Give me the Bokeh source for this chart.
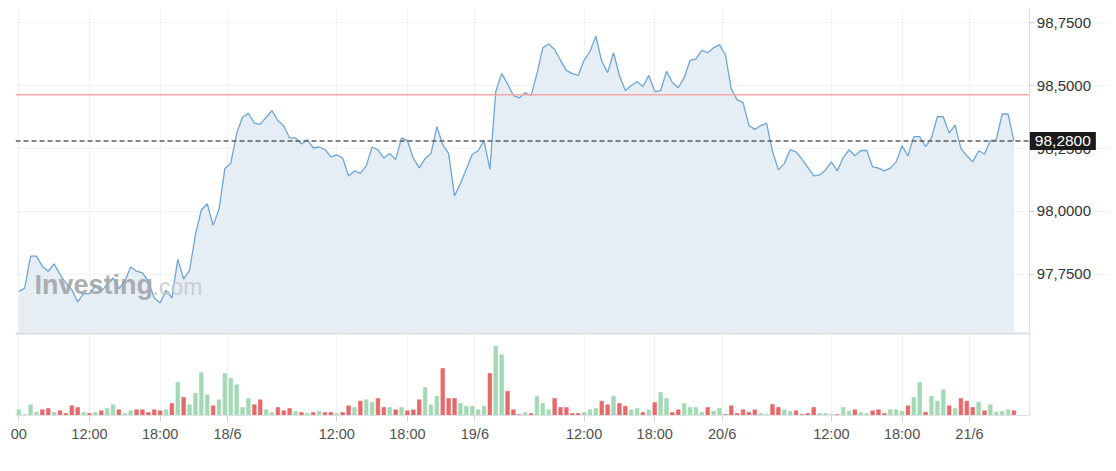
from bokeh.plotting import figure
from bokeh.models import ColumnDataSource, FixedTicker, Label, LinearAxis, Range1d
from bokeh.layouts import column
from bokeh.embed import file_html
from bokeh.resources import INLINE

# ---- data ----
price = [
    97.683, 97.696, 97.823, 97.823, 97.783, 97.763, 97.792, 97.750, 97.716, 97.690,
    97.641, 97.674, 97.674, 97.706, 97.683, 97.710, 97.736, 97.694, 97.723, 97.780,
    97.763, 97.756, 97.723, 97.657, 97.637, 97.687, 97.657, 97.810, 97.732, 97.766,
    97.909, 98.006, 98.031, 97.945, 98.009, 98.171, 98.192, 98.310, 98.374, 98.390,
    98.351, 98.346, 98.374, 98.400, 98.361, 98.339, 98.292, 98.292, 98.268, 98.285,
    98.252, 98.256, 98.246, 98.217, 98.225, 98.212, 98.141, 98.161, 98.151, 98.181,
    98.256, 98.245, 98.212, 98.230, 98.206, 98.292, 98.281, 98.212, 98.173, 98.210,
    98.230, 98.337, 98.265, 98.230, 98.062, 98.111, 98.169, 98.226, 98.241, 98.281,
    98.168, 98.476, 98.547, 98.507, 98.460, 98.451, 98.471, 98.460, 98.547, 98.650,
    98.665, 98.643, 98.600, 98.560, 98.547, 98.541, 98.600, 98.635, 98.696, 98.596,
    98.551, 98.630, 98.540, 98.480, 98.500, 98.515, 98.496, 98.540, 98.476, 98.480,
    98.556, 98.512, 98.491, 98.531, 98.600, 98.606, 98.639, 98.630, 98.650, 98.661,
    98.622, 98.487, 98.443, 98.432, 98.341, 98.326, 98.341, 98.350, 98.238, 98.165,
    98.190, 98.245, 98.237, 98.208, 98.175, 98.141, 98.145, 98.164, 98.197, 98.161,
    98.214, 98.245, 98.221, 98.242, 98.242, 98.177, 98.172, 98.161, 98.172, 98.197,
    98.261, 98.221, 98.297, 98.297, 98.257, 98.292, 98.376, 98.376, 98.311, 98.343,
    98.250, 98.221, 98.197, 98.241, 98.228, 98.281, 98.284, 98.387, 98.387, 98.280,
]

volume = [
    17, 3, 32, 9, 17, 21, 9, 14, 6, 29,
    24, 9, 6, 9, 14, 21, 32, 17, 6, 14,
    17, 17, 9, 17, 14, 17, 36, 99, 54, 32,
    66, 129, 62, 29, 47, 126, 111, 92, 24, 51,
    32, 47, 17, 9, 24, 14, 21, 12, 9, 6,
    9, 12, 9, 9, 6, 9, 29, 24, 43, 47,
    40, 51, 24, 24, 17, 24, 14, 17, 47, 84,
    32, 58, 141, 51, 51, 36, 28, 28, 17, 28,
    126, 208, 182, 73, 17, 3, 9, 6, 58, 36,
    17, 51, 24, 24, 6, 6, 9, 17, 21, 43,
    32, 58, 36, 28, 17, 21, 9, 17, 39, 69,
    51, 9, 17, 36, 24, 24, 9, 24, 13, 21,
    3, 29, 6, 17, 10, 17, 6, 3, 33, 24,
    17, 13, 14, 3, 6, 24, 6, 6, 3, 3,
    24, 13, 17, 9, 6, 14, 17, 6, 17, 17,
    13, 29, 54, 99, 10, 58, 43, 77, 29, 21,
    51, 43, 24, 40, 14, 32, 10, 13, 17, 14,
]

# u = up bar (green), d = down bar (red)
vol_dir = list("".join([
    "uuuudduddd", "dududuuduu", "dddddududu", "uuuduuuuuu",
    "dduudddudu", "dudduddudu", "uddududddu", "uuddduuuuu",
    "duuddduduu", "uddddduuud", "dudduududu", "udduuuuduu",
    "dddddduudd", "uudddduuud", "uuduuddduu", "uduuduuudu",
    "ddduduuuud",
]))

tick_pos = [0, 12, 24, 35.45, 54, 66, 77.45, 96, 108, 119.45, 138, 150, 161.45]
tick_labels = ["00", "12:00", "18:00", "18/6", "12:00", "18:00", "19/6",
               "12:00", "18:00", "20/6", "12:00", "18:00", "21/6"]
y_ticks = [97.75, 98.0, 98.25, 98.5, 98.75]
y_tick_labels = ["97,7500", "98,0000", "98,2500", "98,5000", "98,7500"]

last_price = 98.28
last_price_label = "98,2800"
prev_close = 98.463

# ---- styling ----
FONT = "Liberation Sans"
GREEN = "#a3d9b4"
RED = "#e46a6c"
LINE = "#6ea6d4"
FILL = "#e5edf5"

n = len(price)
idx = list(range(n))
x_start, x_end = -0.56, 185.4      # frame spans the whole width
axis_x = 171.7                     # where the price axis sits
y_lo, y_hi = 97.5198, 98.8056
x_range = Range1d(x_start, x_end)

src = ColumnDataSource(dict(x=idx, y=price, base=[y_lo] * n))
vsrc = ColumnDataSource(dict(x=idx, v=volume,
                             c=[GREEN if d == "u" else RED for d in vol_dir]))

W = 1110
p = figure(width=W, height=332, x_range=x_range, y_range=Range1d(y_lo, y_hi),
           output_backend="svg", toolbar_location=None,
           x_axis_location=None, y_axis_location=None,
           min_border_left=15, min_border_right=0, min_border_top=8, min_border_bottom=0)
p.outline_line_color = None
p.background_fill_color = "white"
p.border_fill_color = "white"

p.xgrid.ticker = FixedTicker(ticks=tick_pos)
p.xgrid.grid_line_color = "#f1f1f1"
p.ygrid.ticker = FixedTicker(ticks=y_ticks)
p.ygrid.grid_line_color = "#f3f3f3"

p.varea(x="x", y1="base", y2="y", source=src, fill_color=FILL, fill_alpha=1.0)

wm1 = Label(x=19, y=33, x_units="screen", y_units="screen", text="Investing",
            text_font=FONT, text_font_size="27px", text_font_style="bold",
            text_color="#a0a4a8", text_alpha=0.9)
wm2 = Label(x=137, y=33, x_units="screen", y_units="screen", text=".com",
            text_font=FONT, text_font_size="23px",
            text_color="#c6c9cd", text_alpha=0.9)
p.add_layout(wm1)
p.add_layout(wm2)

p.line(x="x", y="y", source=src, line_color=LINE, line_width=1.3)

p.segment(x0=[x_start], y0=[prev_close], x1=[axis_x], y1=[prev_close],
          line_color="#f5a8a8", line_width=1.5)
p.segment(x0=[x_start], y0=[last_price], x1=[axis_x], y1=[last_price],
          line_color="#5c5c5c", line_width=1.5, line_dash="5 3")

yax = LinearAxis(fixed_location=axis_x, ticker=FixedTicker(ticks=y_ticks))
yax.major_label_overrides = {t: l for t, l in zip(y_ticks, y_tick_labels)}
yax.major_label_text_font = FONT
yax.major_label_text_font_size = "15px"
yax.major_label_text_color = "#333333"
yax.axis_line_color = "#dcdcdc"
yax.major_tick_line_color = "#cccccc"
yax.major_tick_out = 4
yax.major_tick_in = 0
yax.minor_tick_line_color = None
yax.major_label_standoff = 3
p.add_layout(yax, "right")

tag = Label(x=axis_x, y=last_price, x_units="data", y_units="data",
            text=last_price_label, text_font=FONT, text_font_size="15.5px",
            text_color="white", text_align="left", text_baseline="middle",
            background_fill_color="#1b1b1b", padding=(5, 4))
p.add_layout(tag)

# ---- volume panel ----
v_hi = 249
pv = figure(width=W, height=113, x_range=x_range, y_range=Range1d(0, v_hi),
            output_backend="svg", toolbar_location=None, y_axis_location=None,
            min_border_left=15, min_border_right=0, min_border_top=0, min_border_bottom=30)
pv.outline_line_color = None
pv.xgrid.ticker = FixedTicker(ticks=tick_pos)
pv.xgrid.grid_line_color = "#f1f1f1"
pv.ygrid.grid_line_color = None

pv.vbar(x="x", top="v", width=0.63, source=vsrc, fill_color="c", line_color="c", line_alpha=0.6)

pv.segment(x0=[x_start], y0=[v_hi], x1=[axis_x], y1=[v_hi], line_color="#d6dde5", line_width=4)
pv.segment(x0=[axis_x], y0=[0], x1=[axis_x], y1=[v_hi], line_color="#dcdcdc", line_width=1)

pv.xaxis.ticker = FixedTicker(ticks=tick_pos)
pv.xaxis.bounds = (x_start, axis_x)
pv.xaxis.major_label_overrides = {t: l for t, l in zip(tick_pos, tick_labels)}
pv.xaxis.major_label_text_font = FONT
pv.xaxis.major_label_text_font_size = "14.5px"
pv.xaxis.major_label_text_color = "#505050"
pv.xaxis.axis_line_color = "#dde2e7"
pv.xaxis.major_tick_line_color = "#d2d6da"
pv.xaxis.major_tick_out = 6
pv.xaxis.major_tick_in = 0
pv.xaxis.minor_tick_line_color = None
pv.xaxis.major_label_standoff = 4

layout = column(p, pv, spacing=0)
open("out.html", "w").write(file_html(layout, INLINE))
